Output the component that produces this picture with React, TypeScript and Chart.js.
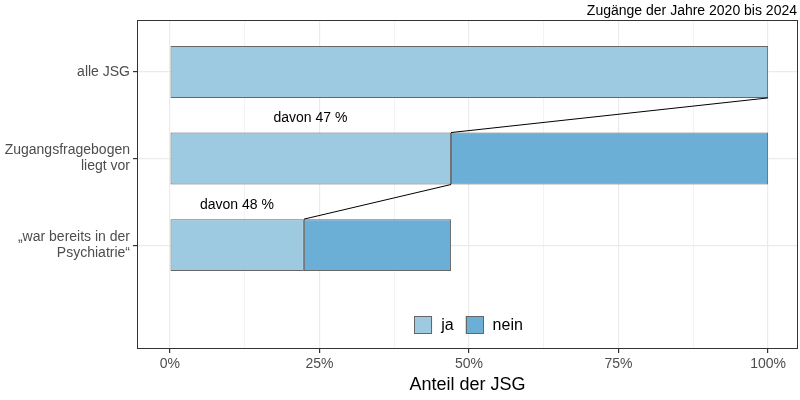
import React, { useEffect, useRef } from 'react';
import { Chart, registerables } from 'chart.js';

Chart.register(...registerables);

const categories: string[][] = [
  ['alle JSG'],
  ['Zugangsfragebogen', 'liegt vor'],
  ['„war bereits in der', 'Psychiatrie“'],
];
const jaValues = [100, 47, 22.4];
const neinValues = [0, 53, 24.6];
const davonLabels = ['davon 47 %', 'davon 48 %'];
const xTickValues = [0, 12.5, 25, 37.5, 50, 62.5, 75, 87.5, 100];
const legendLabels = ['ja', 'nein'];
const chartTitle = 'Zugänge der Jahre 2020 bis 2024';
const xAxisTitle = 'Anteil der JSG';

const COLOR_JA = '#9ECAE1';
const COLOR_NEIN = '#6BAED6';
const BAR_BORDER = '#666666';
const FONT = '"Liberation Sans", Arial, sans-serif';

const rows = categories.map((_, i) => i + 1);

const overlayPlugin = {
  id: 'overlay',
  afterDatasetsDraw(chart: any) {
    const ctx = chart.ctx;
    const xs = chart.scales.x;
    const meta = chart.getDatasetMeta(0);
    ctx.save();
    for (let i = 0; i < jaValues.length - 1; i++) {
      const a = meta.data[i].getProps(['y', 'height'], true);
      const b = meta.data[i + 1].getProps(['y', 'height'], true);
      const y1 = a.y + Math.abs(a.height) / 2;
      const y2 = b.y - Math.abs(b.height) / 2;
      const x1 = xs.getPixelForValue(jaValues[i]);
      const x2 = xs.getPixelForValue(jaValues[i + 1]);
      ctx.strokeStyle = '#000';
      ctx.lineWidth = 1;
      ctx.beginPath();
      ctx.moveTo(x1, y1);
      ctx.lineTo(x2, y2);
      ctx.stroke();
      ctx.fillStyle = '#000';
      ctx.font = `14px ${FONT}`;
      ctx.textAlign = 'center';
      ctx.textBaseline = 'middle';
      ctx.fillText(davonLabels[i], xs.getPixelForValue(jaValues[i + 1] / 2), (y1 + y2) / 2 + 3);
    }
    ctx.restore();
  },
  afterDraw(chart: any) {
    const ctx = chart.ctx;
    const area = chart.chartArea;
    ctx.save();
    // panel border
    ctx.strokeStyle = '#333333';
    ctx.lineWidth = 1;
    ctx.strokeRect(Math.round(area.left) + 0.5, Math.round(area.top) + 0.5,
      Math.round(area.right - area.left) - 1, Math.round(area.bottom - area.top) - 1);
    // title
    ctx.fillStyle = '#000';
    ctx.font = `14px ${FONT}`;
    ctx.textAlign = 'right';
    ctx.textBaseline = 'middle';
    ctx.fillText(chartTitle, area.right - 1, 11);
    // legend inside panel
    ctx.font = `16px ${FONT}`;
    const box = 18;
    const gapBoxText = 9;
    const gapItems = 12;
    const colors = [COLOR_JA, COLOR_NEIN];
    const widths = legendLabels.map((l) => ctx.measureText(l).width);
    let total = 0;
    widths.forEach((w, i) => {
      total += box + gapBoxText + w + (i < widths.length - 1 ? gapItems : 0);
    });
    let x = (area.left + area.right) / 2 - total / 2 + 1;
    const cy = 325;
    legendLabels.forEach((l, i) => {
      ctx.fillStyle = colors[i];
      ctx.fillRect(x, cy - box / 2, box, box);
      ctx.strokeStyle = BAR_BORDER;
      ctx.lineWidth = 1;
      ctx.strokeRect(Math.round(x) + 0.5, Math.round(cy - box / 2) + 0.5, box - 1, box - 1);
      ctx.fillStyle = '#000';
      ctx.textAlign = 'left';
      ctx.textBaseline = 'middle';
      ctx.fillText(l, x + box + gapBoxText, cy + 1);
      x += box + gapBoxText + widths[i] + gapItems;
    });
    ctx.restore();
  },
};

export default function App() {
  const ref = useRef<HTMLCanvasElement>(null);
  useEffect(() => {
    if (!ref.current) return;
    const chart = new Chart(ref.current, {
      type: 'bar',
      data: {
        datasets: [
          {
            label: legendLabels[0],
            data: rows.map((r, i) => ({ x: [0, jaValues[i]], y: r })) as any,
            backgroundColor: COLOR_JA,
            borderColor: BAR_BORDER,
            borderWidth: 1,
            borderSkipped: false,
            grouped: false,
            categoryPercentage: 1,
            barPercentage: 0.6,
          },
          {
            label: legendLabels[1],
            data: rows.map((r, i) =>
              neinValues[i] > 0 ? { x: [jaValues[i], jaValues[i] + neinValues[i]], y: r } : { x: null, y: r }
            ) as any,
            backgroundColor: COLOR_NEIN,
            borderColor: BAR_BORDER,
            borderWidth: 1,
            borderSkipped: false,
            grouped: false,
            categoryPercentage: 1,
            barPercentage: 0.6,
          },
        ],
      },
      options: {
        indexAxis: 'y',
        animation: false,
        responsive: false,
        layout: { padding: { top: 20, right: 2, left: 0, bottom: 0 } },
        plugins: { legend: { display: false }, tooltip: { enabled: false }, title: { display: false } },
        scales: {
          x: {
            type: 'linear',
            min: -5.5,
            max: 105,
            afterBuildTicks: (s: any) => {
              s.ticks = xTickValues.map((v) => ({ value: v }));
            },
            afterFit: (s: any) => {
              s.height = 51;
            },
            ticks: {
              autoSkip: false,
              maxRotation: 0,
              padding: 3,
              color: '#4D4D4D',
              font: { family: FONT, size: 14 },
              callback: (v: any) => (Number(v) % 25 === 0 ? `${v}%` : ''),
            },
            grid: {
              color: '#EBEBEB',
              lineWidth: (c: any) => (c.tick && c.tick.value % 25 === 0 ? 1.2 : 0.6),
              tickColor: (c: any) => (c.tick && c.tick.value % 25 === 0 ? '#333333' : 'rgba(0,0,0,0)'),
              tickLength: 4,
              drawTicks: true,
            },
            border: { display: false },
            title: {
              display: true,
              text: xAxisTitle,
              color: '#000',
              font: { family: FONT, size: 18 },
              padding: { top: 1, bottom: 4 },
            },
          },
          y: {
            type: 'linear',
            reverse: true,
            offset: false,
            min: 0.4,
            max: 4.2,
            afterBuildTicks: (s: any) => {
              s.ticks = rows.map((v) => ({ value: v }));
            },
            afterFit: (s: any) => {
              s.width = 137;
            },
            ticks: {
              autoSkip: false,
              padding: 3,
              color: '#4D4D4D',
              font: { family: FONT, size: 14, lineHeight: 1.15 },
              callback: (v: any) => {
                const idx = rows.indexOf(Number(v));
                return idx >= 0 ? categories[idx] : '';
              },
            },
            grid: {
              offset: false,
              color: '#EBEBEB',
              lineWidth: 1.2,
              tickColor: '#333333',
              tickLength: 4,
            },
            border: { display: false },
          },
        },
      },
      plugins: [overlayPlugin],
    } as any);
    return () => chart.destroy();
  }, []);
  return (
    <div style={{ position: 'absolute', left: 0, top: 0, width: 800, height: 400, background: '#fff' }}>
      <canvas ref={ref} width={800} height={400} />
    </div>
  );
}
